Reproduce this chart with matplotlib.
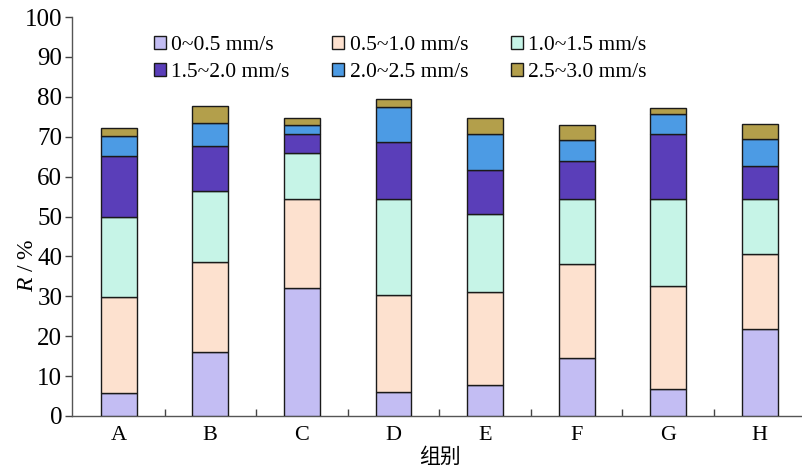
import matplotlib
matplotlib.use("Agg")
import matplotlib.pyplot as plt
import numpy as np
from matplotlib.patches import Patch

plt.rcParams['font.family'] = ['Liberation Serif', 'Noto Sans CJK SC']
plt.rcParams['mathtext.fontset'] = 'custom'
plt.rcParams['mathtext.it'] = 'Liberation Serif:italic'
plt.rcParams['mathtext.rm'] = 'Liberation Serif'

groups = ['A', 'B', 'C', 'D', 'E', 'F', 'G', 'H']
series_names = ['0~0.5 mm/s', '0.5~1.0 mm/s', '1.0~1.5 mm/s',
                '1.5~2.0 mm/s', '2.0~2.5 mm/s', '2.5~3.0 mm/s']
s0 = [5.7, 16.1, 32.2, 6.0, 7.8, 14.5, 6.8, 21.7]
s1 = [24.2, 22.4, 22.1, 24.3, 23.2, 23.6, 25.8, 18.9]
s2 = [20.0, 17.9, 11.7, 24.0, 19.7, 16.2, 21.7, 13.7]
s3 = [15.2, 11.3, 4.6, 14.4, 10.9, 9.5, 16.3, 8.3]
s4 = [5.1, 5.8, 2.3, 8.8, 9.2, 5.3, 5.0, 6.7]
s5 = [2.0, 4.2, 1.8, 1.9, 3.8, 3.8, 1.7, 3.9]
series = [s0, s1, s2, s3, s4, s5]
colors = ['#c3bdf3', '#fde1cf', '#c6f4e7', '#5a3eb9', '#4c9be4', '#b39f4b']
yticks = [0, 10, 20, 30, 40, 50, 60, 70, 80, 90, 100]

fig = plt.figure(figsize=(8.02, 4.72), dpi=100)
ax = fig.add_axes([72/802, 1-416/472, 1-72/802, (416-17)/472])

x = np.arange(len(groups))
bottom = np.zeros(len(groups))
handles = []
for vals, c, name in zip(series, colors, series_names):
    ax.bar(x, vals, width=0.39, bottom=bottom, color=c, edgecolor='#1a1a1a',
           linewidth=1.0, zorder=3)
    bottom += np.array(vals)
    handles.append(Patch(facecolor=c, edgecolor='#1a1a1a', linewidth=1.0, label=name))

ax.set_xlim(-0.51, 7.46)
ax.set_ylim(0, 100)
ax.set_yticks(yticks)
ax.set_yticklabels([str(t) for t in yticks], fontsize=18)
ax.set_xticks(x)
ax.set_xticklabels(groups, fontsize=16)
ax.tick_params(axis='x', which='major', length=0, pad=7)
ax.set_xticks(x[:-1] + 0.5, minor=True)
ax.tick_params(axis='x', which='minor', direction='in', length=5, width=1, color='#444444')
ax.tick_params(axis='y', direction='out', length=5, width=1, color='#444444', pad=2)

for sp in ['top', 'right']:
    ax.spines[sp].set_visible(False)
for sp in ['left', 'bottom']:
    ax.spines[sp].set_color('#555555')
    ax.spines[sp].set_linewidth(1.0)

fig.text(28/802, 1-265/472, r'$R$ / %', rotation=90, fontsize=17,
         ha='center', va='center')
fig.text(440/802, 1-457/472, '组别', fontsize=15, ha='center', va='center',
         family=['Noto Sans CJK SC'])

order = [0, 3, 1, 4, 2, 5]
leg = ax.legend([handles[i] for i in order], [series_names[i] for i in order],
                ncol=3, frameon=False, fontsize=15.5,
                loc='upper left', bbox_to_anchor=(143/802, 1-25/472),
                bbox_transform=fig.transFigure,
                handlelength=0.55, handleheight=0.55, handletextpad=0.25,
                columnspacing=2.0, labelspacing=0.38, borderpad=0)

fig.savefig('out.png', dpi=100)
